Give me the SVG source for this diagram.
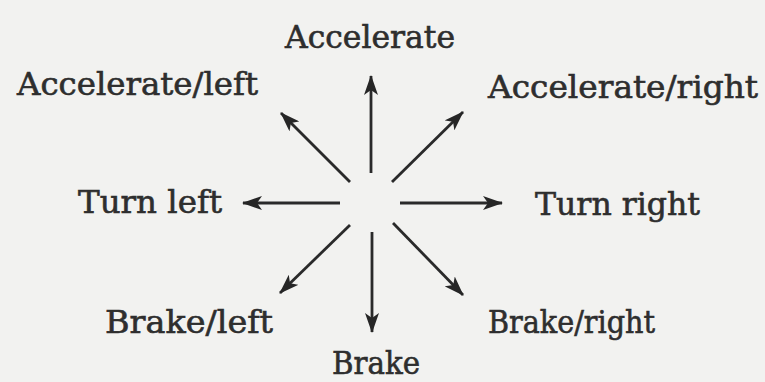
<svg xmlns="http://www.w3.org/2000/svg" width="765" height="382" viewBox="0 0 765 382">
<defs>
<marker id="ah" markerWidth="22" markerHeight="14" refX="19" refY="7" orient="auto" markerUnits="userSpaceOnUse">
<path d="M0,0 L20,7 L0,14 L5,7 Z" fill="#262626"/>
</marker>
<style>
.lbl{font-family:"DejaVu Serif","Liberation Serif",serif;font-size:31px;fill:#2e2e2e;stroke:#2e2e2e;stroke-width:0.6}
.c{stroke:#2a2a2a;stroke-width:2.8;fill:none;marker-end:url(#ah)}
</style>
</defs>
<rect width="765" height="382" fill="#f2f2f0"/>
<g id="connectors">
<line class="c" x1="371" y1="173" x2="371" y2="76"/>
<line class="c" x1="350" y1="182" x2="281" y2="113"/>
<line class="c" x1="392" y1="182" x2="463" y2="112"/>
<line class="c" x1="340" y1="203" x2="243" y2="203"/>
<line class="c" x1="400" y1="203" x2="502" y2="203"/>
<line class="c" x1="350" y1="225" x2="280" y2="293"/>
<line class="c" x1="372" y1="232" x2="372" y2="332"/>
<line class="c" x1="393" y1="223" x2="463" y2="295"/>
</g>
<g id="accelerate"><text class="lbl" x="285" y="48" textLength="170" lengthAdjust="spacingAndGlyphs">Accelerate</text></g>
<g id="accelerate-left"><text class="lbl" x="17" y="95" textLength="241" lengthAdjust="spacingAndGlyphs">Accelerate/left</text></g>
<g id="accelerate-right"><text class="lbl" x="488" y="98" textLength="270" lengthAdjust="spacingAndGlyphs">Accelerate/right</text></g>
<g id="turn-left"><text class="lbl" x="78" y="213" textLength="144" lengthAdjust="spacingAndGlyphs">Turn left</text></g>
<g id="turn-right"><text class="lbl" x="535" y="215" textLength="165" lengthAdjust="spacingAndGlyphs">Turn right</text></g>
<g id="brake-left"><text class="lbl" x="105" y="333" textLength="168" lengthAdjust="spacingAndGlyphs">Brake/left</text></g>
<g id="brake-right"><text class="lbl" x="488" y="333" textLength="167" lengthAdjust="spacingAndGlyphs">Brake/right</text></g>
<g id="brake"><text class="lbl" x="332" y="374" textLength="88" lengthAdjust="spacingAndGlyphs">Brake</text></g>
</svg>
